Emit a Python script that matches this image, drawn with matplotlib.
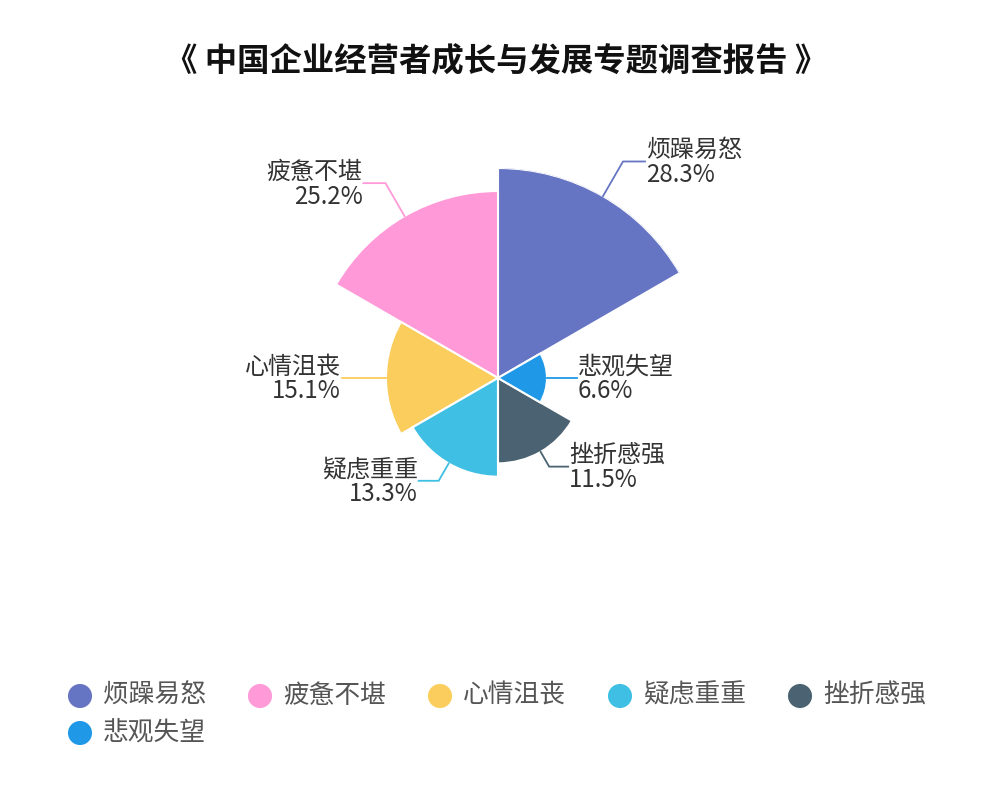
import numpy as np
import matplotlib
matplotlib.use("Agg")
import matplotlib.pyplot as plt

plt.rcParams['font.family'] = ['Noto Sans CJK SC', 'DejaVu Sans']

# ----------------------------------------------------------------------
# data (legend order)
# ----------------------------------------------------------------------
title = "《 中国企业经营者成长与发展专题调查报告 》"
categories = ['烦躁易怒', '疲惫不堪', '心情沮丧', '疑虑重重', '挫折感强', '悲观失望']
values = [28.3, 25.2, 15.1, 13.3, 11.5, 6.6]
colors = ['#6675C3', '#FF99D7', '#FACD5D', '#3FBFE4', '#4A6271', '#1E98E7']

# leader line segments (px): radial part, horizontal part
leader_len1 = [40, 38, 24, 20, 17, 10]
leader_len2 = [22, 22, 20, 20, 19, 20]

# ----------------------------------------------------------------------
# layout (pixels, figure is 1000 x 800)
# ----------------------------------------------------------------------
W, H = 1000, 800
cx, cy = 498, 378          # centre of the rose
rmax_px = 210              # radius of the largest slice
n = len(values)
step = 360.0 / n

fig = plt.figure(figsize=(W / 100, H / 100), dpi=100)

# rose (polar bars, equal angles, radius ~ value)
ax = fig.add_axes([(cx - rmax_px) / W, (H - cy - rmax_px) / H,
                   2 * rmax_px / W, 2 * rmax_px / H], projection='polar')
ax.set_theta_zero_location('N')
ax.set_theta_direction(-1)
centers_deg = [step / 2 - i * step for i in range(n)]   # counter-clockwise from 60 deg
theta = np.deg2rad(centers_deg)
ax.bar(theta, values, width=np.deg2rad(step), bottom=0,
       color=colors, edgecolor='white', linewidth=1.5, align='center')
ax.set_ylim(0, max(values))
ax.set_axis_off()

# overlay in pixel coordinates for labels / legend / title
ov = fig.add_axes([0, 0, 1, 1], zorder=5)
ov.set_xlim(0, W)
ov.set_ylim(H, 0)
ov.set_axis_off()
ov.patch.set_alpha(0)

ov.text(496, 62, title, ha='center', va='center', fontsize=23.3,
        fontweight='bold', color='#111111')

scale = rmax_px / max(values)
for i, (cat, v) in enumerate(zip(categories, values)):
    a = np.deg2rad(centers_deg[i])
    r = v * scale
    sx, sy = cx + r * np.sin(a), cy - r * np.cos(a)
    bx = cx + (r + leader_len1[i]) * np.sin(a)
    by = cy - (r + leader_len1[i]) * np.cos(a)
    side = 1 if np.sin(a) > 1e-6 else -1
    ex = bx + side * leader_len2[i]
    ov.plot([sx, bx, ex], [sy, by, by], color=colors[i], lw=1.3,
            solid_joinstyle='miter')
    ha = 'left' if side > 0 else 'right'
    tx = ex + side * 1
    ov.text(tx, by + 1, f"{cat}\n{v}%", ha=ha, va='center', multialignment=ha,
            fontsize=17.3, linespacing=0.95, color='#333333')

# legend
per_row = 5
for i, (cat, c) in enumerate(zip(categories, colors)):
    row, col = divmod(i, per_row)
    lx = 80 + col * 180
    ly = 696 + row * 37
    ov.scatter([lx], [ly], s=300, color=c, edgecolors='none')
    ov.text(lx + 23, ly, cat, ha='left', va='center', fontsize=18.5, color='#555555')

fig.savefig('out.png', dpi=100)
